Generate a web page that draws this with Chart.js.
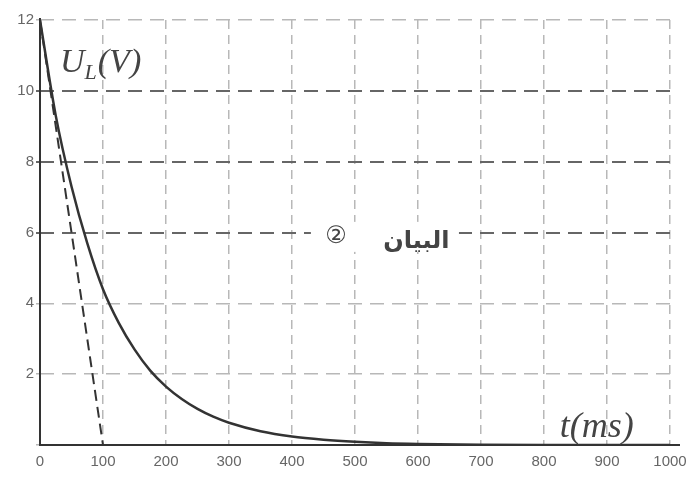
<!DOCTYPE html>
<html>
<head>
<meta charset="utf-8">
<script src="https://cdn.jsdelivr.net/npm/chart.js@4"></script>
<style>
  html, body { margin: 0; padding: 0; background: #fff; }
  #wrap { width: 695px; height: 478px; position: relative; }
</style>
</head>
<body>
<div id="wrap"><canvas id="chart"></canvas></div>
<script>
// valeurs
const timeMs = [0, 25, 50, 75, 100, 125, 150, 175, 200, 225, 250, 275, 300, 350, 400, 450, 500, 550, 600, 700, 800, 900, 1000];
const voltageUL = [12, 9.3, 7.3, 5.7, 4.4, 3.45, 2.7, 2.1, 1.65, 1.3, 1.02, 0.8, 0.63, 0.39, 0.24, 0.15, 0.09, 0.05, 0.03, 0.01, 0, 0, 0];
// tangente a l'origine
const tangentT = [0, 100];
const tangentU = [12, 0];
const xTicks = [0, 100, 200, 300, 400, 500, 600, 700, 800, 900, 1000];
const yTicks = [0, 2, 4, 6, 8, 10, 12];

const ink = '#333';

// axes pleins + textes dans la zone du graphe
const labelsPlugin = {
    id: 'labels',
    afterDraw(chart) {
        const ctx = chart.ctx;
        const x = chart.scales.x, y = chart.scales.y;
        const x0 = x.getPixelForValue(0), y0 = y.getPixelForValue(0);
        ctx.save();
        ctx.strokeStyle = ink;
        ctx.lineWidth = 2;
        ctx.setLineDash([]);
        ctx.beginPath();
        ctx.moveTo(x0, y.getPixelForValue(12) - 2);
        ctx.lineTo(x0, y0);
        ctx.lineTo(x.right + 10, y0);
        ctx.stroke();

        ctx.fillStyle = '#444';
        ctx.textBaseline = 'alphabetic';
        ctx.textAlign = 'left';
        // U_L(V)
        let px = x.left + 20, py = y.top + 52;
        ctx.font = 'italic 34px "Liberation Serif"';
        ctx.fillText('U', px, py);
        px += ctx.measureText('U').width;
        ctx.font = 'italic 22px "Liberation Serif"';
        ctx.fillText('L', px, py + 7);
        px += ctx.measureText('L').width + 1;
        ctx.font = 'italic 34px "Liberation Serif"';
        ctx.fillText('(V)', px, py);
        // t(ms)
        ctx.font = 'italic 36px "Liberation Serif"';
        ctx.fillText('t(ms)', x.getPixelForValue(825), y0 - 8);
        // البيان ② sur fond blanc
        ctx.fillStyle = '#fff';
        ctx.fillRect(x.getPixelForValue(430), y.getPixelForValue(6.3), x.getPixelForValue(665) - x.getPixelForValue(430), 30);
        ctx.fillStyle = '#444';
        ctx.font = 'bold 24px "DejaVu Sans"';
        ctx.textAlign = 'right';
        ctx.fillText('البيان', x.getPixelForValue(650), y.getPixelForValue(5.55));
        ctx.font = '24px "DejaVu Sans"';
        ctx.textAlign = 'center';
        ctx.fillText('②', x.getPixelForValue(470), y.getPixelForValue(5.7));
        ctx.restore();
    }
};

new Chart(document.getElementById('chart'), {
    type: 'line',
    data: {
        datasets: [
            {
                data: timeMs.map((t, i) => ({ x: t, y: voltageUL[i] })),
                borderColor: ink,
                borderWidth: 2.5,
                pointRadius: 0,
                cubicInterpolationMode: 'monotone'
            },
            {
                data: tangentT.map((t, i) => ({ x: t, y: tangentU[i] })),
                borderColor: ink,
                borderWidth: 2,
                borderDash: [11, 6],
                pointRadius: 0
            }
        ]
    },
    options: {
        responsive: true,
        maintainAspectRatio: false,
        animation: false,
        layout: { padding: { top: 20, right: 25, left: 0, bottom: 0 } },
        plugins: { legend: { display: false }, tooltip: { enabled: false } },
        scales: {
            x: {
                type: 'linear',
                min: 0,
                max: 1000,
                afterFit: s => { s.height = 33; },
                afterBuildTicks: s => { s.ticks = xTicks.map(v => ({ value: v })); },
                border: { display: false, dash: [9, 6] },
                grid: {
                    color: '#b8b8b8',
                    lineWidth: 1.5,
                    drawTicks: false
                },
                ticks: {
                    color: '#666',
                    font: { family: 'Liberation Sans', size: 15 },
                    padding: 8,
                    maxRotation: 0,
                    callback: v => String(v)
                }
            },
            y: {
                type: 'linear',
                min: 0,
                max: 12,
                afterFit: s => { s.width = 40; },
                afterBuildTicks: s => { s.ticks = yTicks.map(v => ({ value: v })); },
                border: { display: false, dash: [14, 8] },
                grid: {
                    color: ctx => ([6, 8, 10].includes(ctx.tick.value) ? '#666' : '#b8b8b8'),
                    lineWidth: ctx => ([6, 8, 10].includes(ctx.tick.value) ? 2 : 1.5),
                    drawTicks: true,
                    tickLength: 4
                },
                ticks: {
                    color: '#666',
                    font: { family: 'Liberation Sans', size: 15 },
                    padding: 2,
                    callback: v => (v === 0 ? '' : String(v))
                }
            }
        }
    },
    plugins: [labelsPlugin]
});
</script>
</body>
</html>
